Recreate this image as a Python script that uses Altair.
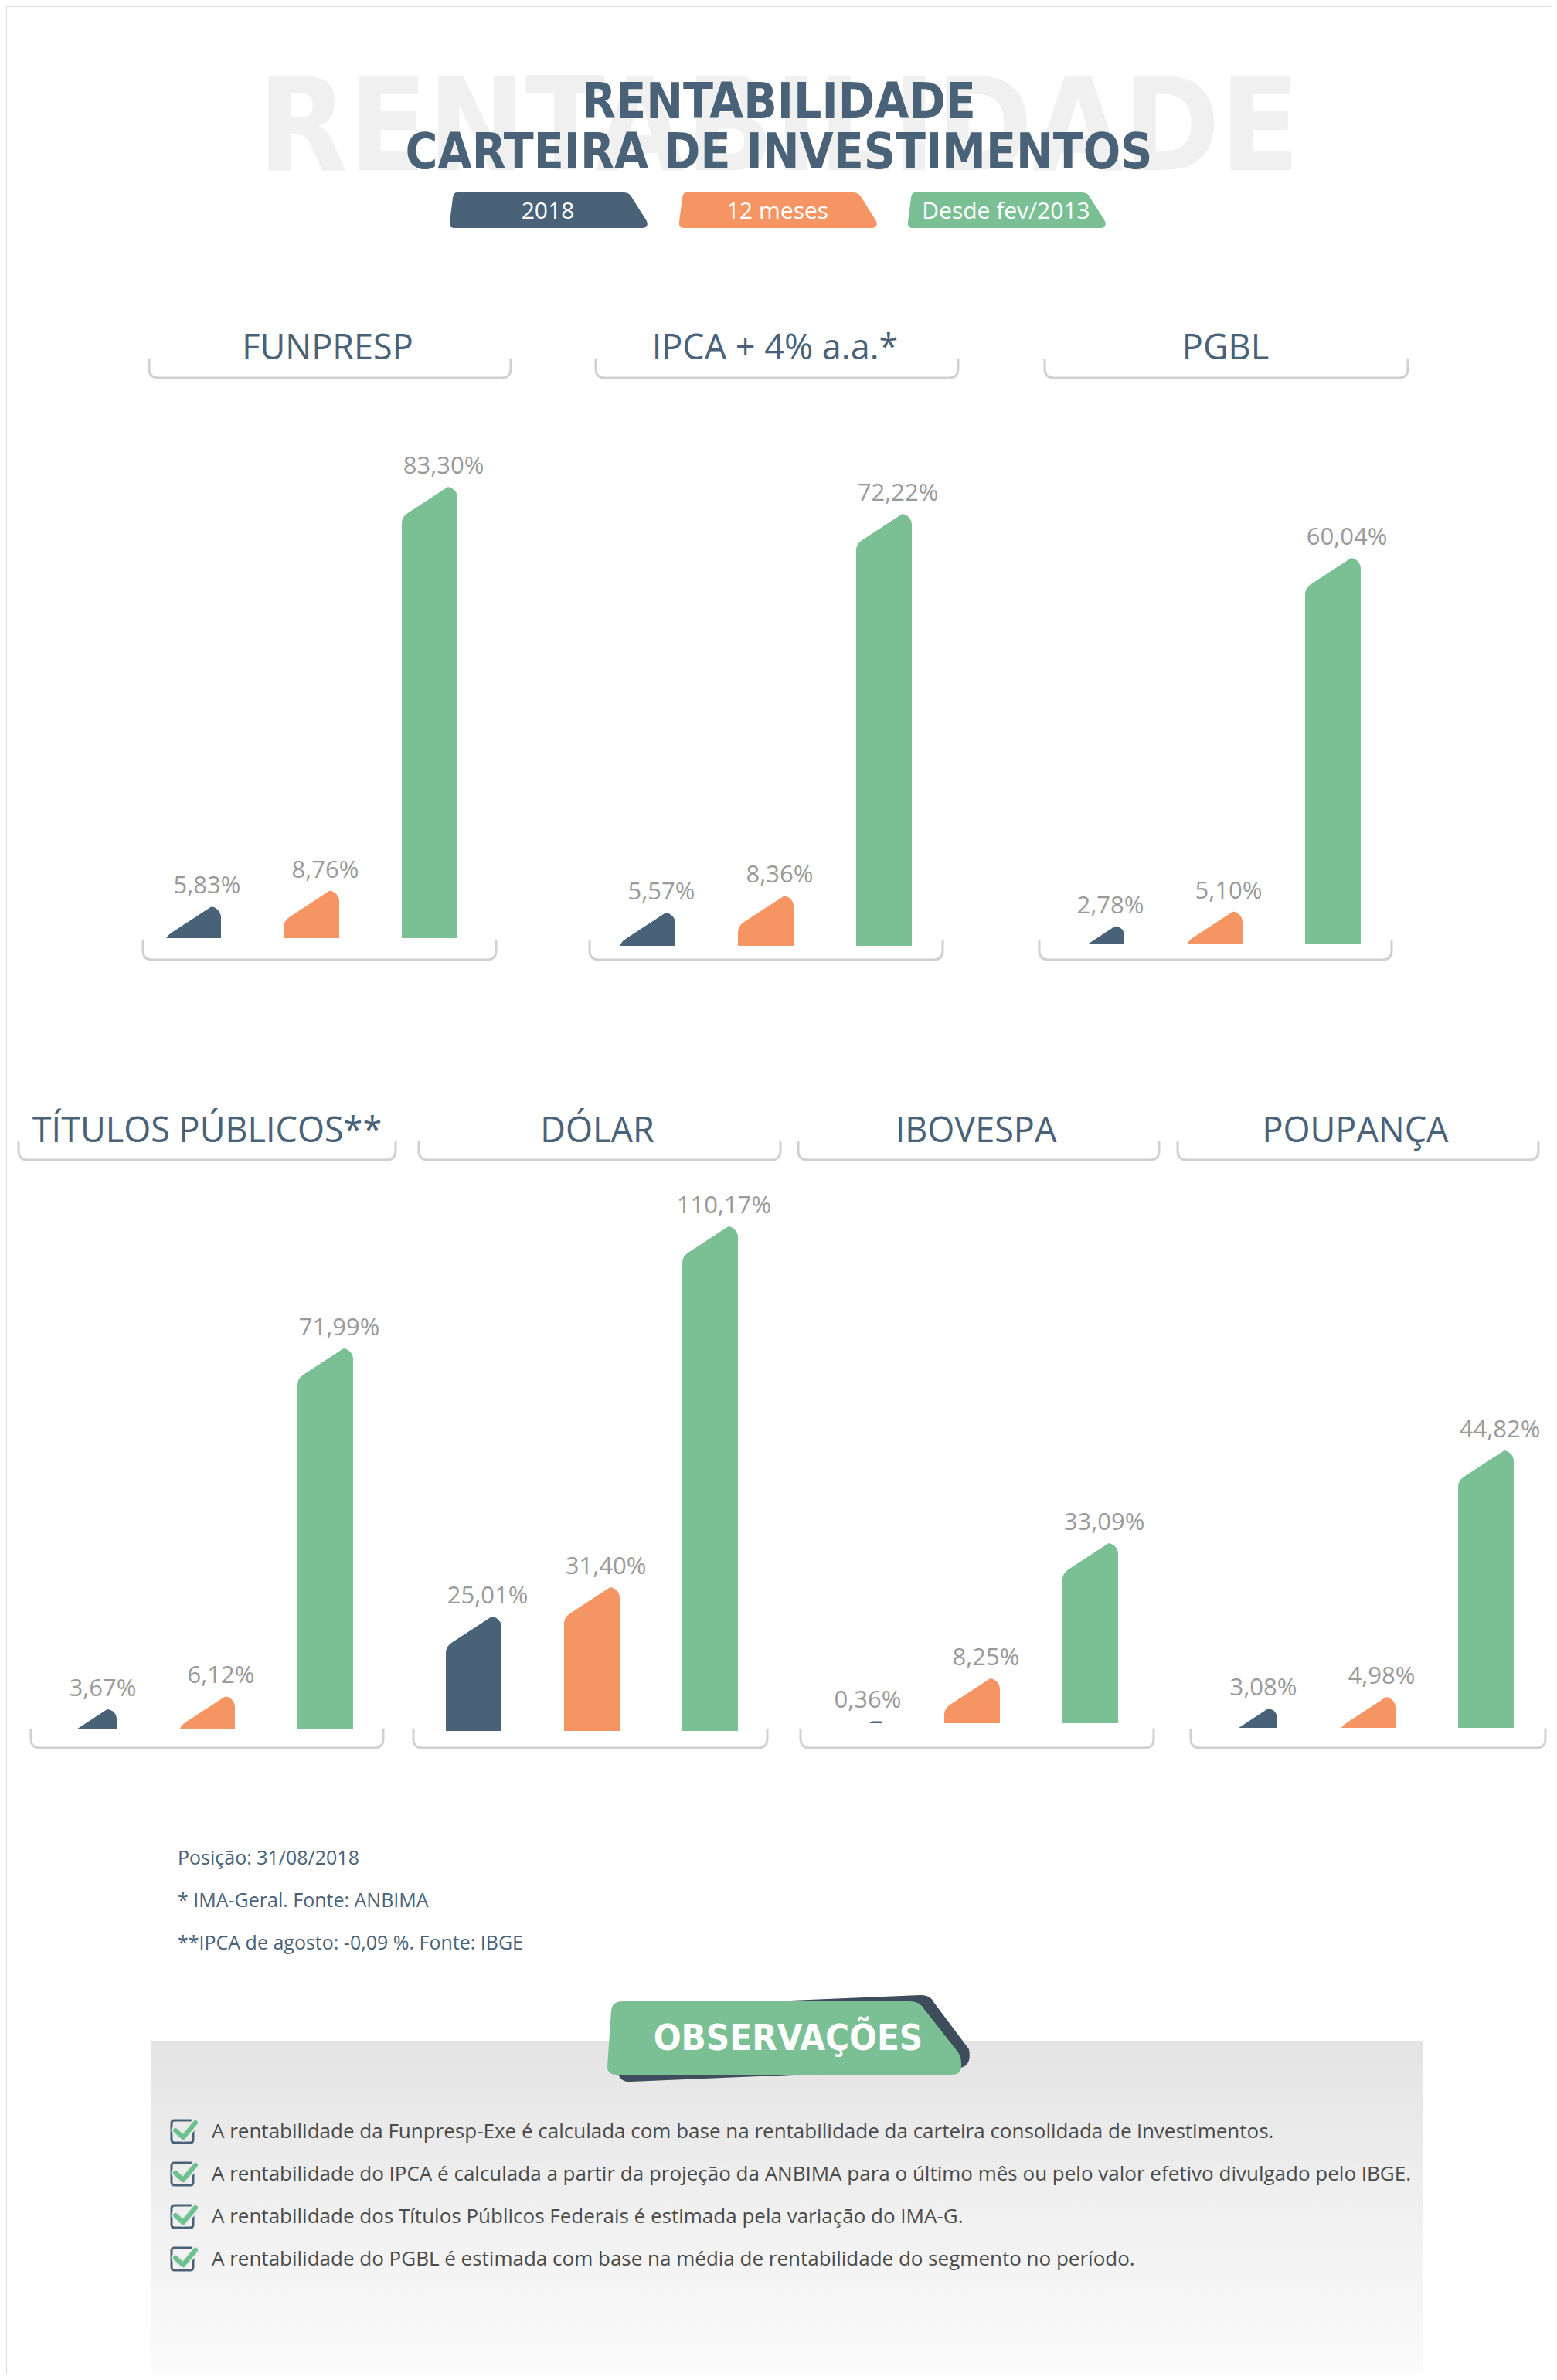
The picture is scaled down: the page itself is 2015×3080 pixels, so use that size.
import altair as alt
import pandas as pd

# ---------------- data ----------------
panels = ["FUNPRESP", "IPCA + 4% a.a.*", "PGBL",
          "TÍTULOS PÚBLICOS**", "DÓLAR", "IBOVESPA", "POUPANÇA"]
series = ["2018", "12 meses", "Desde fev/2013"]
v_2018 = [5.83, 5.57, 2.78, 3.67, 25.01, 0.36, 3.08]
v_12m = [8.76, 8.36, 5.10, 6.12, 31.40, 8.25, 4.98]
v_desde = [83.30, 72.22, 60.04, 71.99, 110.17, 33.09, 44.82]

title_lines = ["RENTABILIDADE", "CARTEIRA DE INVESTIMENTOS"]
watermark = "RENTABILIDADE"
notes = ["Posição: 31/08/2018",
         "* IMA-Geral. Fonte: ANBIMA",
         "**IPCA de agosto: -0,09 %. Fonte: IBGE"]
obs_title = "OBSERVAÇÕES"
observations = [
    "A rentabilidade da Funpresp-Exe é calculada com base na rentabilidade da carteira consolidada de investimentos.",
    "A rentabilidade do IPCA é calculada a partir da projeção da ANBIMA para o último mês ou pelo valor efetivo divulgado pelo IBGE.",
    "A rentabilidade dos Títulos Públicos Federais é estimada pela variação do IMA-G.",
    "A rentabilidade do PGBL é estimada com base na média de rentabilidade do segmento no período.",
]

# ---------------- styles ----------------
SLATE = "#4a6278"
COLORS = ["#4a6278", "#f49563", "#7bbf95"]
GREY_LINE = "#d0d0d0"
LABEL_GREY = "#9a9a9a"
SANS = "Open Sans, Lato, sans-serif"
NARROW = "DejaVu Sans Condensed, sans-serif"

# ---------------- layout (page pixels) ----------------
W, H, OFF = 1999, 3064, 8
hdr_cx = [424, 1003, 1586, 268, 773, 1263, 1754]
hdr_x0 = [193, 771, 1352, 24, 542, 1033, 1524]
hdr_x1 = [661, 1240, 1822, 512, 1010, 1500, 1991]
row_of = [0, 0, 0, 1, 1, 1, 1]
hdr_base = [465, 1478]
hdr_brk = [(465, 489), (1478, 1501)]
bar_left0 = [214, 802, 1383, 79, 577, 1069, 1581]
base_y = [1214, 1224, 1222, 2237, 2240, 2230, 2236]
top_y = [630, 665, 722, 1745, 1587, 1997, 1877]
brk_x0 = [185, 763, 1345, 40, 535, 1036, 1541]
brk_x1 = [642, 1220, 1801, 496, 993, 1493, 2000]
bot_brk = [(1218, 1242), (2238, 2262)]
BAR_W, STEP, SLANT = 72, 153, 39

XS = alt.Scale(domain=[OFF, OFF + W], range=[0, W], nice=False, zero=False)
YS = alt.Scale(domain=[OFF, OFF + H], range=[0, H], nice=False, zero=False)


def px(f):
    return alt.X(f, type="quantitative", scale=XS, axis=None)


def py(f):
    return alt.Y(f, type="quantitative", scale=YS, axis=None)


color_enc = alt.Color("series:N", scale=alt.Scale(domain=series, range=COLORS), legend=None)


def text_layer(rows, font, size, color, weight="normal", align="center"):
    df = pd.DataFrame(rows)
    return alt.Chart(df).mark_text(font=font, fontSize=size, color=color, fontWeight=weight,
                                   align=align, baseline="alphabetic").encode(
        x=px("x"), y=py("y"), text="t:N")


def path_layer(rows, color, filled, sw=0, cap="round"):
    df = pd.DataFrame(rows)
    if filled:
        m = alt.Chart(df).mark_point(filled=True, color=color, opacity=1, size=4, strokeWidth=0)
    else:
        m = alt.Chart(df).mark_point(filled=False, color=color, opacity=1, size=4, strokeWidth=sw,
                                     strokeCap=cap, strokeJoin="round")
    return m.encode(x=px("x"), y=py("y"), shape=alt.Shape("p:N", scale=None))


def bracket_path(w, h, r=12):
    return f"M0,0 L0,{h - r} Q0,{h} {r},{h} L{w - r},{h} Q{w},{h} {w},{h - r} L{w},0"


layers = []

# watermark + title
layers.append(text_layer([{"x": 1008, "y": 220, "t": watermark}], NARROW, 168, "#f0f0f0", "bold"))
layers.append(text_layer([{"x": 1008, "y": 153, "t": title_lines[0]},
                          {"x": 1008, "y": 218, "t": title_lines[1]}], NARROW, 63.5, SLATE, "bold"))

# legend pills
pill_x0 = [581, 878, 1174]
pill_path = "M10,0 L226,0 Q234,0 237,7 L256,37 Q259,46 250,46 L7,46 Q0,46 1,38 L5,7 Q6,0 10,0 Z"
pill_df = pd.DataFrame({"series": series, "x": pill_x0, "y": [249] * 3, "p": [pill_path] * 3,
                        "tx": [x + 128 for x in pill_x0], "ty": [283] * 3})
layers.append(alt.Chart(pill_df).mark_point(filled=True, opacity=1, size=4, strokeWidth=0).encode(
    x=px("x"), y=py("y"), shape=alt.Shape("p:N", scale=None), color=color_enc))
layers.append(alt.Chart(pill_df).mark_text(font=SANS, fontSize=30, color="white", baseline="alphabetic").encode(
    x=px("tx"), y=py("ty"), text="series:N"))

# observation box background
box_df = pd.DataFrame({"x": [196], "x2": [1842], "y": [2641], "y2": [OFF + H]})
layers.append(alt.Chart(box_df).mark_rect(fill=alt.Gradient(
    gradient="linear", x1=0, x2=0, y1=0, y2=1,
    stops=[alt.GradientStop(color="#e4e4e4", offset=0), alt.GradientStop(color="#fbfbfb", offset=1)])).encode(
    x=px("x"), x2="x2", y=py("y"), y2="y2"))

# bar panels
cover_path = (f"M-3,-16 L-3,{SLANT + 8} L0,{SLANT + 8} Q0,{SLANT} 8,{SLANT - 5.2} "
              f"L{BAR_W + 3},-10 L{BAR_W + 3},-16 Z")
vals = list(zip(v_2018, v_12m, v_desde))
for i, name in enumerate(panels):
    rows = []
    for k, s in enumerate(series):
        left = bar_left0[i] + k * STEP
        v = vals[i][k]
        rows.append({"series": s, "value": v, "left": left, "right": left + BAR_W,
                     "lx": left + BAR_W / 2 + 18,
                     "label": f"{v:.2f}".replace(".", ",") + "%"})
    df = pd.DataFrame(rows)
    ysc = alt.Scale(domain=[0, max(vals[i])], range=[base_y[i] - OFF, top_y[i] - OFF],
                    nice=False, zero=True)
    yenc = alt.Y("value:Q", scale=ysc, axis=None)
    base = alt.Chart(df)
    bars = base.mark_rect(cornerRadiusTopRight=14).encode(
        x=px("left"), x2="right", y=yenc, y2=alt.datum(0), color=color_enc)
    cover = base.mark_point(shape=cover_path, size=4, filled=True, color="white",
                            opacity=1, strokeWidth=0).encode(x=px("left"), y=yenc)
    labels = base.mark_text(font=SANS, fontSize=31, color=LABEL_GREY, dy=-17,
                            baseline="alphabetic").encode(x=px("lx"), y=yenc, text="label:N")
    layers.append(alt.layer(bars, cover, labels))

# headers + brackets
hdr_rows, brk_rows = [], []
for i, name in enumerate(panels):
    r = row_of[i]
    hdr_rows.append({"x": hdr_cx[i], "y": hdr_base[r], "t": name})
    y0, y1 = hdr_brk[r]
    brk_rows.append({"x": hdr_x0[i], "y": y0, "p": bracket_path(hdr_x1[i] - hdr_x0[i], y1 - y0)})
    b0, b1 = bot_brk[r]
    brk_rows.append({"x": brk_x0[i], "y": b0, "p": bracket_path(brk_x1[i] - brk_x0[i], b1 - b0)})
layers.append(path_layer(brk_rows, GREY_LINE, False, 3))
layers.append(text_layer(hdr_rows, SANS, 45, SLATE))

# notes
layers.append(text_layer([{"x": 230, "y": 2413 + 55 * j, "t": t} for j, t in enumerate(notes)],
                         SANS, 25, SLATE, align="left"))

# observations badge
shadow_path = ("M24,8 L405,-8 Q418,-9 423,2 L468,62 Q472,84 456,86 L30,104 Q16,105 14,92 "
               "L10,22 Q10,9 24,8 Z")
badge_path = ("M20,0 L392,0 Q404,0 410,10 L454,66 Q458,72 458,80 L458,84 Q458,95 446,95 "
              "L12,95 Q0,95 0,84 L5,12 Q6,0 20,0 Z")
layers.append(path_layer([{"x": 786, "y": 2590, "p": shadow_path}], "#3e4c5b", True))
layers.append(path_layer([{"x": 786, "y": 2590, "p": badge_path}], "#7bbf95", True))
layers.append(text_layer([{"x": 1020, "y": 2653, "t": obs_title}], NARROW, 47, "white", "bold"))

# checklist
box_icon = "M4,0 L24,0 Q28,0 28,4 L28,25 Q28,29 24,29 L4,29 Q0,29 0,25 L0,4 Q0,0 4,0 Z"
check_icon = "M5,13 L15,22 L31,3"
ic_rows = [{"x": 222, "y": 2744 + 55 * j} for j in range(len(observations))]
layers.append(path_layer([dict(r, p=box_icon) for r in ic_rows], SLATE, False, 3))
layers.append(path_layer([dict(r, p=check_icon) for r in ic_rows], "#ebebeb", False, 11))
layers.append(path_layer([dict(r, p=check_icon) for r in ic_rows], "#6cc28e", False, 6))
layers.append(text_layer([{"x": 274, "y": 2767 + 55 * j, "t": t} for j, t in enumerate(observations)],
                         SANS, 26, "#4a4a4a", align="left"))

chart = alt.layer(*layers).resolve_scale(y="independent").properties(
    width=W, height=H, padding=0, autosize=alt.AutoSizeParams(type="none")
).configure_view(stroke=None).configure(background="white")

chart.save("out.html", embed_options={"renderer": "svg", "actions": False})
